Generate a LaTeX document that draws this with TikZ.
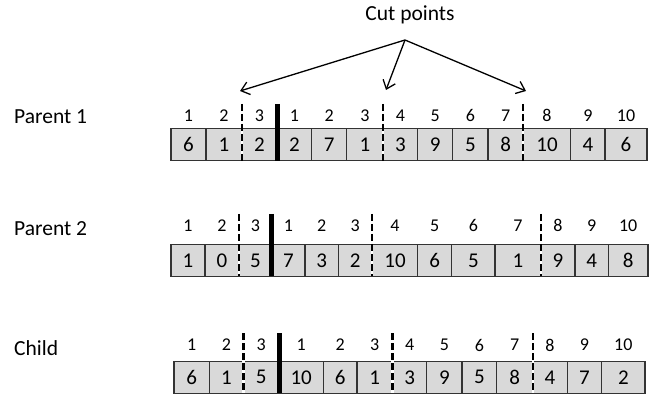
\documentclass[tikz,border=0pt]{standalone}
\usepackage{fontspec}
\setmainfont{Carlito}
\usetikzlibrary{arrows.meta}
\definecolor{cellgray}{HTML}{D9D9D9}
\definecolor{edgegray}{HTML}{333333}
\tikzset{
  cell/.style={draw=edgegray, line width=1.4pt, fill=cellgray, inner sep=0pt,
    font=\fontsize{21}{21}\selectfont, text=black},
  idx/.style={inner sep=0pt, font=\fontsize{18}{18}\selectfont, text=black},
  rowname/.style={anchor=base west, inner sep=0pt, font=\fontsize{21.5}{21.5}\selectfont, text=black},
  cutline/.style={line width=2.2pt, dash pattern=on 7pt off 3pt},
  cutgap/.style={line width=2.2pt, white},
  splitline/.style={line width=5pt},
  pointer/.style={line width=1.3pt, -{Straight Barb[length=8pt,width=13pt,line width=1.3pt]}},
}
% draws one chromosome row: #1 name prefix, #2 top, #3 bottom, #4 index-label y,
% #5 list of left/right/value/index
\newcommand{\generow}[5]{%
  \foreach \l/\r/\v/\k [count=\i] in {#5} {
    \node[cell, minimum width={\r pt-\l pt}, minimum height={#3 pt-#2 pt}]
      (#1c\i) at ({(\l+\r)/2}, {(#2+#3)/2}) {\v};
    \node[idx] (#1i\i) at ({(\l+\r)/2}, #4) {\k};
  }%
}
% a dashed cut marker with white gaps
\newcommand{\cutmark}[3]{%
  \draw[cutgap] (#1,#2) -- (#1,#3);
  \draw[cutline] (#1,#2) -- (#1,#3);
}
\begin{document}
\begin{tikzpicture}[x=1pt, y=-1pt]
  \useasboundingbox (0,0) rectangle (651,395);

  % row names
  \node[rowname] (nameA) at (14,124) {Parent 1};
  \node[rowname] (nameB) at (14,235.5) {Parent 2};
  \node[rowname] (nameC) at (14,355.5) {Child};

  % Parent 1
  \generow{pa}{128.3}{160.7}{115.7}{
    171/206/6/1, 206/241.7/1/2, 241.7/277/2/3, 277/311.7/2/1, 311.7/346.7/7/2,
    346.7/383.3/1/3, 383.3/417.7/3/4, 417.7/452.7/9/5, 452.7/488/5/6,
    488/523.3/8/7, 523.3/570.7/10/8, 570.7/605/4/9, 605/647/6/10}
  \cutmark{241.7}{104}{160.7}
  \cutmark{383.3}{104}{160.7}
  \cutmark{523.3}{104}{160.7}
  \draw[splitline] (277,104) -- (277,160.7);

  % Parent 2
  \generow{pb}{244.3}{276.5}{225.7}{
    171/205/1/1, 205/239/0/2, 239/271.7/5/3, 271.7/305/7/1, 305/338.3/3/2,
    338.3/372.3/2/3, 372.3/417.7/10/4, 417.7/451.7/6/5, 451.7/495/5/6,
    495/541/1/7, 541/575/9/8, 575/608.3/4/9, 608.3/648/8/10}
  \cutmark{239}{214}{276.5}
  \cutmark{372.3}{214}{276.5}
  \cutmark{541}{214}{276.5}
  \draw[splitline] (271.7,214) -- (271.7,276.5);

  % Child
  \generow{ch}{361.3}{393.3}{345}{
    174/209.3/6/1, 209.3/243.5/1/2, 243.5/279/5/3, 279/323.3/10/1, 323.3/357/6/2,
    357/392.5/1/3, 392.5/426.7/3/4, 426.7/462/9/5, 462/496.7/5/6,
    496.7/532.7/8/7, 532.7/567.3/4/8, 567.3/601.7/7/9, 601.7/645/2/10}
  \cutmark{243.5}{333.5}{393.3}
  \cutmark{392.5}{333.5}{393.3}
  \cutmark{532.7}{333.5}{393.3}
  \draw[splitline] (279,333.5) -- (279,393.3);

  % caption and pointers to the cut points
  \node[idx, font=\fontsize{21.5}{21.5}\selectfont] (cuts) at (410,15) {Cut points};
  \coordinate (apex) at (405,40);
  \coordinate (cutL) at (240,91);
  \coordinate (cutM) at (386,90);
  \coordinate (cutR) at (526,91);
  \draw[pointer] (apex) -- (cutL);
  \draw[pointer] (apex) -- (cutM);
  \draw[pointer] (apex) -- (cutR);
\end{tikzpicture}
\end{document}
